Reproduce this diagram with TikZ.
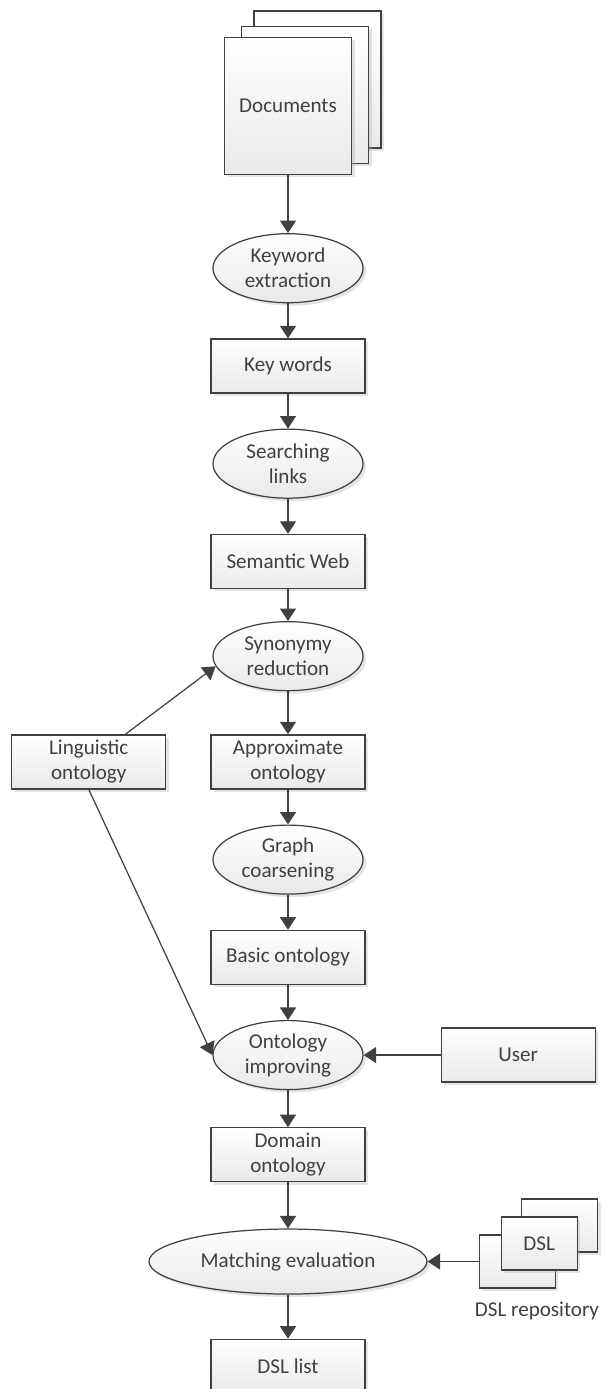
\documentclass[tikz,border=0pt]{standalone}
\usepackage{fontspec}
\setmainfont{Carlito}
\usetikzlibrary{arrows.meta,positioning,shapes.geometric,shadows}
\definecolor{ink}{HTML}{404040}
\tikzset{
    base/.style={draw=ink, line width=0.7pt, text=ink, top color=white, bottom color=gray!17,
      drop shadow={shadow xshift=0.06cm, shadow yshift=-0.06cm, fill=gray!60, opacity=.35},
      font=\fontsize{12}{14.2}\selectfont, align=center},
    data/.style={base, rectangle, minimum width=3.08cm, minimum height=1.08cm, inner sep=2pt},
    proc/.style={base, ellipse, minimum width=3cm, minimum height=1.38cm, inner sep=0pt},
    page/.style={base, rectangle, minimum width=2.54cm, minimum height=2.74cm},
    dslpage/.style={base, rectangle, minimum width=1.52cm, minimum height=1.06cm},
    pre/.style = {{Triangle[length=0.25cm, width=0.32cm]}-, draw=ink, line width=0.7pt},
    post/.style= {-{Triangle[length=0.25cm, width=0.32cm]}, draw=ink, line width=0.7pt},
  }

\begin{document}
\begin{tikzpicture}[node distance=0.7cm]
      \useasboundingbox (0,0) rectangle (12.12,-27.78);
      \node (docs3) [page] at (6.35,-1.59) {};
      \node (docs2) [page] at (6.1,-1.9) {};
      \node (docs) [page] at (5.76,-2.12) {Documents};
      	\node (kwx) [proc, below=1.16cm of docs] {Keyword\\extraction}
      		edge [pre] (docs);
      	\node (kw) [data, below=of kwx] {Key words}
      		edge [pre] (kwx);
      	\node (srch) [proc, below=of kw] {Searching\\links}
      		edge [pre] (kw);
      	\node (sem) [data, below=of srch] {Semantic Web}
      		edge [pre] (srch);
      	\node (syn) [proc, below=0.64cm of sem] {Synonymy\\reduction}
      		edge [pre] (sem);
      	\node (approx) [data, below=0.86cm of syn] {Approximate\\ontology}
      		edge [pre] (syn);
      	\node (ling) [data, left=0.88cm of approx] {Linguistic\\ontology}
      		edge [post] (syn.188);
      	\node (coarse) [proc, below=of approx] {Graph\\coarsening}
      		edge [pre] (approx);
      	\node (basic) [data, below=of coarse] {Basic ontology}
      		edge [pre] (coarse);
      	\node (ontimp) [proc, below=of basic] {Ontology\\improving}
      		edge [pre] (basic);
      	\draw [post] (ling.south) -- (ontimp.west);
      	\node (user) [data, right=1.54cm of ontimp] {User}
      		edge [post] (ontimp);
      	\node (domain) [data, below=0.74cm of ontimp] {Domain\\ontology}
      		edge [pre] (ontimp);
      	\node (match) [proc, minimum width=5.56cm, minimum height=1.3cm, below=0.92cm of domain] {Matching evaluation}
      		edge [pre] (domain);
      	\node (dsllist) [data, below=0.88cm of match] {DSL list}
      		edge [pre] (match);

      \node (dsl1) [dslpage, right=1.02cm of match] {}
      	edge [post] (match);
      \node (dsl3) [dslpage, xshift=0.85cm, yshift=0.72cm] at (dsl1) {};
      \node (dsl2) [dslpage, xshift=0.44cm, yshift=0.36cm] at (dsl1) {DSL};
      \node (repo) [text=ink, font=\fontsize{12}{14.2}\selectfont] at (10.74,-26.22) {DSL repository};
  \end{tikzpicture}
\end{document}
